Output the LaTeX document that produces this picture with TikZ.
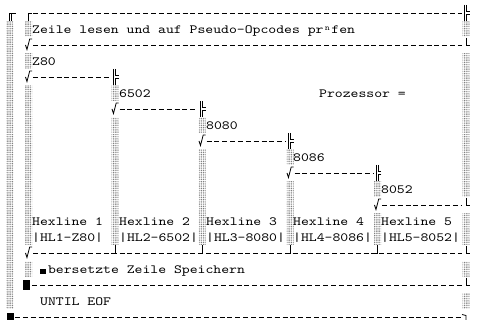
\documentclass[tikz,border=0pt]{standalone}
\usepackage{fontspec}
\usetikzlibrary{patterns.meta}
\newfontfamily\codefont{lmmono10-regular.otf}[FakeStretch=1.2]

% row centre and glyph helpers
\newcommand{\ry}[1]{(13+16*(#1))}
\newcommand{\shadecell}[2]{\fill[shd] ({#1-3.5},{\ry{#2}-7.3}) rectangle ({#1+3.5},{\ry{#2}+7.3});}
\newcommand{\checkmk}[2]{\draw[glyph] ({#1-3},{\ry{#2}}) -- ({#1-1.5},{\ry{#2}+4.5}) -- ({#1+1.2},{\ry{#2}-6}) -- ({#1+3.5},{\ry{#2}-6});}
\newcommand{\branch}[2]{\draw[glyph] ({#1-1.5},{\ry{#2}-8}) -- ({#1-1.5},{\ry{#2}+8});
  \draw[glyph] ({#1+0.8},{\ry{#2}-8}) -- ({#1+0.8},{\ry{#2}-1.5}) -- ({#1+3.8},{\ry{#2}-1.5});
  \draw[glyph] ({#1+3.8},{\ry{#2}+1.2}) -- ({#1+0.8},{\ry{#2}+1.2}) -- ({#1+0.8},{\ry{#2}+8});}
\newcommand{\lcorner}[2]{\draw[glyph] ({#1},{\ry{#2}-7}) -- ({#1},{\ry{#2}}) -- ({#1+4},{\ry{#2}});}
\newcommand{\jcorner}[2]{\draw[glyph] ({#1-4},{\ry{#2}}) -- ({#1},{\ry{#2}}) -- ({#1},{\ry{#2}-8});}

\begin{document}
\begin{tikzpicture}[
    x=1pt, y=-1pt,
    txt/.style={anchor=base west, inner sep=0pt, font=\codefont\fontsize{12.5}{14}\selectfont},
    shd/.style={pattern={Dots[distance=1.8pt, radius=0.6pt]}, pattern color=black!55},
    dashrule/.style={line width=0.8pt, dash pattern=on 5pt off 2.87pt},
    glyph/.style={line width=0.8pt}
]
\useasboundingbox (0,0) rectangle (482,320);

% shade columns
\foreach \r in {1,...,18} {\shadecell{10}{\r}}
\foreach \r in {1,3,5,6,7,8,9,10,11,12,13,14,16} {\shadecell{28.5}{\r}}
\foreach \r in {5,7,8,9,10,11,12,13,14} {\shadecell{115}{\r}}
\foreach \r in {7,9,10,11,12,13,14} {\shadecell{202}{\r}}
\foreach \r in {9,11,12,13,14} {\shadecell{290}{\r}}
\foreach \r in {11,13,14} {\shadecell{377.5}{\r}}
\foreach \r in {1,3,4,5,6,7,8,9,10,11,13,14,16,18} {\shadecell{466}{\r}}

% top border
\draw[glyph] (9,{\ry{0}+8}) -- (9,{\ry{0}}) -- (16,{\ry{0}});
\draw[glyph] (11.5,{\ry{0}+8}) -- (11.5,{\ry{0}+1.5});
\draw[glyph] (28.5,{\ry{0}+8}) -- (28.5,{\ry{0}}) -- (32,{\ry{0}});
\draw[dashrule] (33,{\ry{0}}) -- (462,{\ry{0}});
\branch{466}{0}

% text lines
\node[txt] (zeile) at (32,{\ry{1}+5}) {Zeile lesen und auf Pseudo-Opcodes pr\makebox[7.875pt]{\raisebox{3.5pt}{\fontsize{8}{8}\selectfont n}}fen};
\checkmk{28.5}{2}
\draw[dashrule] (33,{\ry{2}}) -- (462,{\ry{2}});
\lcorner{466}{2}

% case branches
\foreach \i/\x/\cpu in {1/32/Z80, 2/119/6502, 3/206/8080, 4/293/8086, 5/381/8052}
  \node[txt] (cpu\i) at (\x,{\ry{2*\i+1}+5}) {\cpu};
\node[txt] (prozessor) at (319,{\ry{5}+5}) {Prozessor =};

\foreach \a/\b/\r in {28.5/115/4, 115/202/6, 202/290/8, 290/377.5/10} {
  \checkmk{\a}{\r}
  \draw[dashrule] ({\a+4.5},{\ry{\r}}) -- ({\b-4},{\ry{\r}});
  \branch{\b}{\r}
}
\checkmk{377.5}{12}
\draw[dashrule] (382,{\ry{12}}) -- (462,{\ry{12}});
\lcorner{466}{12}

\foreach \i/\x/\cpu in {1/32/Z80, 2/119/6502, 3/206/8080, 4/293/8086, 5/381/8052} {
  \node[txt] (hex\i) at (\x,{\ry{13}+5}) {Hexline \i};
  \node[txt] (hl\i) at (\x,{\ry{14}+5}) {|HL\i-\cpu|};
}

% end of case
\checkmk{28.5}{15}
\draw[dashrule] (33,{\ry{15}}) -- (462,{\ry{15}});
\foreach \x in {115,202,290,377.5} {\jcorner{\x}{15}}
\lcorner{466}{15}

\node[txt] (speichern) at (40,{\ry{16}+5}) {\makebox[7.875pt][l]{\rule{6pt}{4.5pt}}bersetzte Zeile Speichern};

\fill (23,{\ry{17}-5}) rectangle (29.5,{\ry{17}+5});
\draw[dashrule] (32,{\ry{17}}) -- (462,{\ry{17}});
\lcorner{466}{17}

\node[txt] (until) at (40,{\ry{18}+5}) {UNTIL EOF};

% bottom border
\fill (6.5,{\ry{19}-4}) rectangle (13.5,320);
\draw[dashrule] (15,{\ry{19}}) -- (462,{\ry{19}});
\draw[glyph] (462,{\ry{19}-2.5}) -- (466,{\ry{19}-1.5}) -- (466,320);
\end{tikzpicture}
\end{document}
